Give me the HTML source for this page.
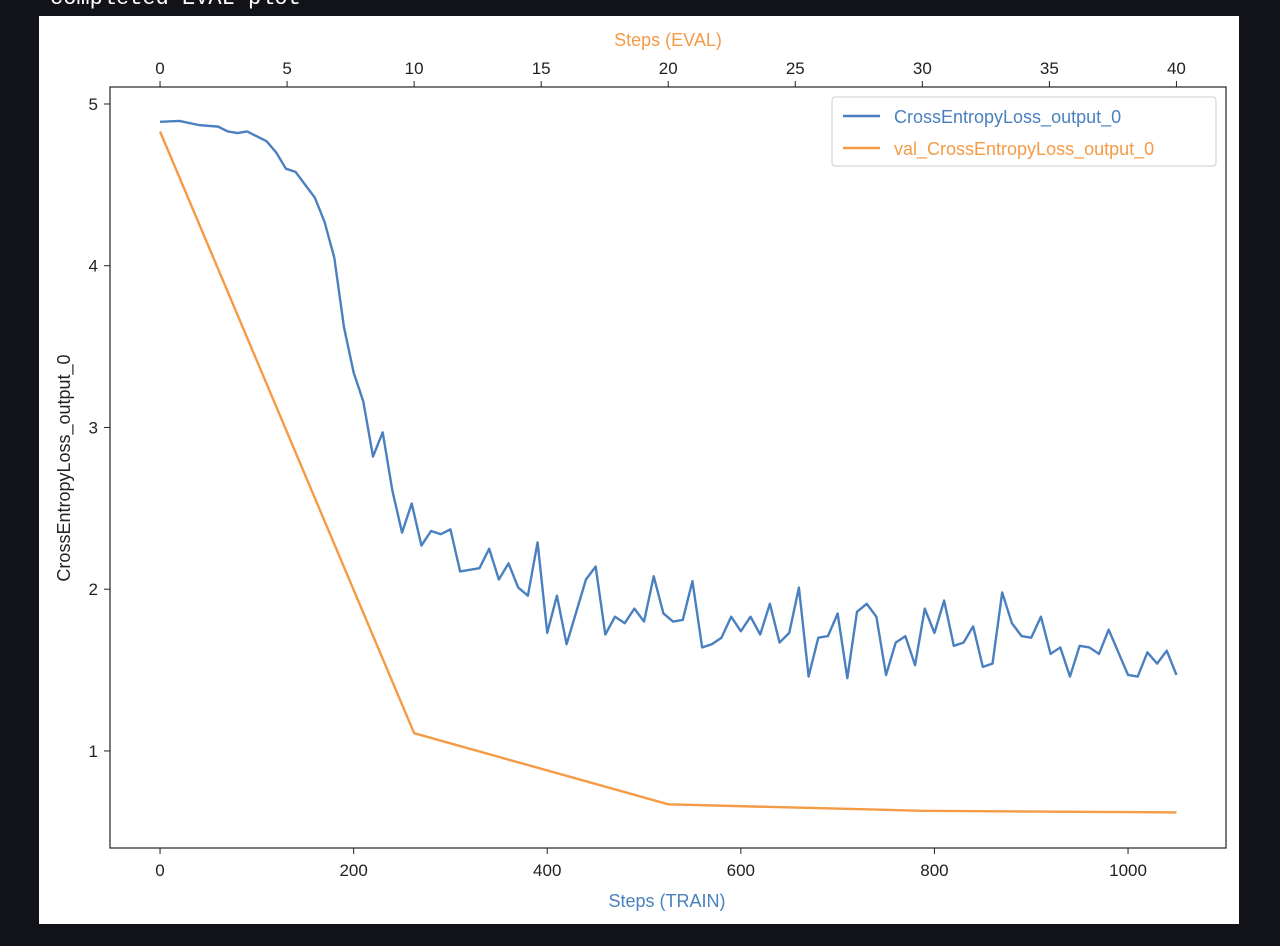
<!DOCTYPE html>
<html><head><meta charset="utf-8"><style>
html,body{margin:0;padding:0;background:#111318;width:1280px;height:946px;overflow:hidden}
#hdr{position:absolute;left:50px;top:-14px;color:#fff;font:22px "Liberation Mono","DejaVu Sans Mono",monospace;white-space:pre}
svg{position:absolute;left:0;top:0}
text{font-family:"Liberation Sans","DejaVu Sans",sans-serif}
</style></head><body>
<div id="hdr">completed EVAL plot</div>
<svg id="chart" width="1280" height="946">
<rect x="39" y="16" width="1200" height="908" fill="#fff"/>
</svg>
<script>
const trainSteps=[0,20,40,60,70,80,90,100,110,120,130,140,150,160,170,180,190,200,210,220,230,240,250,260,270,280,290,300,310,320,330,340,350,360,370,380,390,400,410,420,430,440,450,460,470,480,490,500,510,520,530,540,550,560,570,580,590,600,610,620,630,640,650,660,670,680,690,700,710,720,730,740,750,760,770,780,790,800,810,820,830,840,850,860,870,880,890,900,910,920,930,940,950,960,970,980,990,1000,1010,1020,1030,1040,1050];
const trainLoss=[4.89,4.895,4.87,4.86,4.83,4.82,4.83,4.80,4.77,4.70,4.60,4.58,4.50,4.42,4.27,4.05,3.62,3.34,3.16,2.82,2.97,2.61,2.35,2.53,2.27,2.36,2.34,2.37,2.11,2.12,2.13,2.25,2.06,2.16,2.01,1.96,2.29,1.73,1.96,1.66,1.86,2.06,2.14,1.72,1.83,1.79,1.88,1.80,2.08,1.85,1.80,1.81,2.05,1.64,1.66,1.70,1.83,1.74,1.83,1.72,1.91,1.67,1.73,2.01,1.46,1.70,1.71,1.85,1.45,1.86,1.91,1.83,1.47,1.67,1.71,1.53,1.88,1.73,1.93,1.65,1.67,1.77,1.52,1.54,1.98,1.79,1.71,1.70,1.83,1.60,1.64,1.46,1.65,1.64,1.60,1.75,1.61,1.47,1.46,1.61,1.54,1.62,1.47];
const evalSteps=[0,10,20,30,40];
const evalLoss=[4.83,1.11,0.67,0.63,0.62];
const xTicks=[0,200,400,600,800,1000];
const topTicks=[0,5,10,15,20,25,30,35,40];
const yTicks=[1,2,3,4,5];

const L=110,R=1226,T=87,B=848;
const xMin=-51.7,xMax=1101.2,yMin=0.40,yMax=5.105,evalMax=40,trainAtEvalMax=1050;
const sx=v=>L+(v-xMin)/(xMax-xMin)*(R-L);
const sy=v=>B-(v-yMin)/(yMax-yMin)*(B-T);
const se=e=>sx(e/evalMax*trainAtEvalMax);
const svg=document.getElementById('chart');
const NS='http://www.w3.org/2000/svg';
function mk(tag,attrs,txt){const e=document.createElementNS(NS,tag);for(const k in attrs)e.setAttribute(k,attrs[k]);if(txt!=null)e.textContent=txt;svg.appendChild(e);return e;}

const blue='#4a80bf',orange='#f59a45';
let p=mk('polyline',{points:trainSteps.map((s,i)=>sx(s)+','+sy(trainLoss[i])).join(' '),fill:'none',stroke:blue,'stroke-width':2.4,'stroke-linejoin':'round'});


p=mk('polyline',{points:evalSteps.map((s,i)=>se(s)+','+sy(evalLoss[i])).join(' '),fill:'none',stroke:orange,'stroke-width':2.4,'stroke-linejoin':'round'});



let f=mk('rect',{x:L,y:T,width:R-L,height:B-T,fill:'none',stroke:'#222','stroke-width':1.2});



xTicks.forEach(v=>{const x=sx(v);mk('line',{x1:x,x2:x,y1:B,y2:B+6,stroke:'#222'});
 const t=mk('text',{x:x,y:B+28,'text-anchor':'middle','font-size':17,fill:'#222'},v);
 
 });
topTicks.forEach(v=>{const x=se(v);mk('line',{x1:x,x2:x,y1:T,y2:T-6,stroke:'#222'});
 const t=mk('text',{x:x,y:T-13,'text-anchor':'middle','font-size':17,fill:'#222'},v);
 
 });
yTicks.forEach(v=>{const y=sy(v);mk('line',{x1:L,x2:L-6,y1:y,y2:y,stroke:'#222'});
 const t=mk('text',{x:L-12,y:y+6,'text-anchor':'end','font-size':17,fill:'#222'},v);
 
 });

let t=mk('text',{x:667,y:907,'text-anchor':'middle','font-size':18,fill:blue},'Steps (TRAIN)');


t=mk('text',{x:668,y:46,'text-anchor':'middle','font-size':18,fill:orange},'Steps (EVAL)');


t=mk('text',{x:0,y:0,'text-anchor':'middle','font-size':18,fill:'#222',transform:'translate(70,468) rotate(-90)'},'CrossEntropyLoss_output_0');



let lg=mk('rect',{x:832,y:97,width:384,height:69,rx:3,fill:'#fff',stroke:'#ccc'});


[[blue,'CrossEntropyLoss_output_0',116],[orange,'val_CrossEntropyLoss_output_0',148]].forEach(([c,s,y])=>{
 const l=mk('line',{x1:843,x2:880,y1:y,y2:y,stroke:c,'stroke-width':2.4});
 
 
 const tt=mk('text',{x:894,y:y+7,'font-size':18,fill:c},s);
 
 
});
</script>
</body></html>
